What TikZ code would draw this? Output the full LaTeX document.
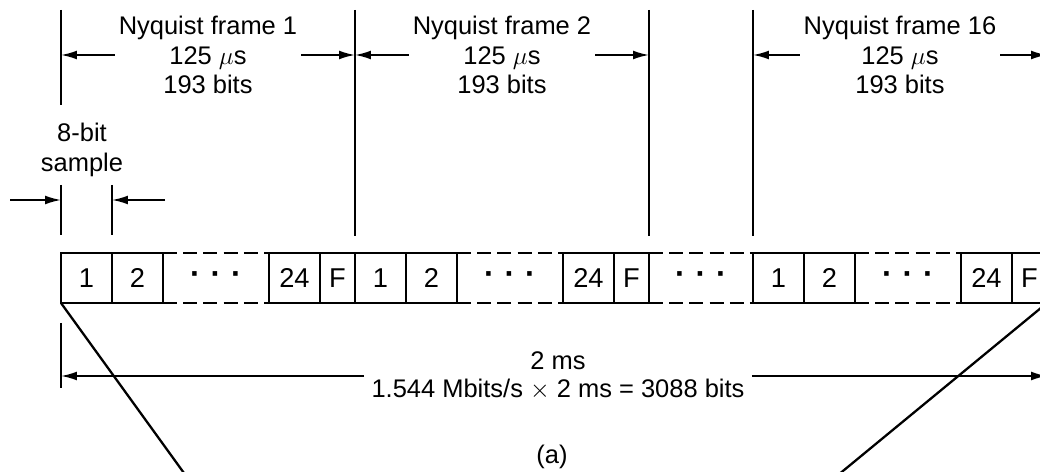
\documentclass[tikz,border=0pt]{standalone}
\usepackage{fontspec}
\setmainfont{Liberation Sans}
\usepackage{tikz}
\usetikzlibrary{positioning,calc,arrows.meta}

\tikzset{
	slot/.style={draw, line width=1.4pt, outer sep=0pt, inner sep=0pt,
		minimum width=1.02cm, minimum height=1cm, font=\fontsize{15.5}{17}\selectfont},
	flag/.style={slot, minimum width=0.7cm},
	gapline/.style={dash pattern=on 8pt off 3.5pt, line width=1.2pt},
	tick/.style={line width=1.2pt},
	dim/.style={line width=1pt, -{Latex[length=9pt,width=5pt]}},
	dots/.style={inner sep=0pt, font=\fontsize{18}{18}\selectfont\bfseries}
}

\begin{document}
\begin{tikzpicture}[x=0.02cm, y=-0.02cm, font=\fontsize{14.5}{17}\selectfont]
	\useasboundingbox (0,0) rectangle (1040,472);
	\coordinate (top) at (0,10);
	\coordinate (tophalf) at (0,236);
	
	\foreach \f/\x/\n in {a/61/1, b/355/2, c/753/16}{
		\node[slot, anchor=west] (\f-1) at (\x,278) {1};
		\node[slot, right=0pt of \f-1] (\f-2) {2};
		\node[slot, right=2.12cm of \f-2] (\f-24) {24};
		\node[flag, right=0pt of \f-24] (\f-F) {F};
		\draw[gapline] (\f-2.north east) -- (\f-24.north west)
			(\f-2.south east) -- (\f-24.south west);
		\node[dots] (\f-dots) at ($(\f-2.east)!0.5!(\f-24.west)$)
			{·\hspace{0.2cm}·\hspace{0.2cm}·};
		\node[align=center, inner sep=2pt] (\f-lab) at ($(\f-1.west |- 0,55)!0.5!(\f-F.east |- 0,55)$)
			{Nyquist frame \n\\125 $\mu$s\\193 bits};
		\draw[dim] (\f-lab.west) -- (\f-lab.west -| \f-1.west);
		\draw[dim] (\f-lab.east) -- (\f-lab.east -| \f-F.east);
	}
	
	\draw[gapline] (b-F.north east) -- (c-1.north west)
		(b-F.south east) -- (c-1.south west);
	\node[dots] (bc-dots) at ($(b-F.east)!0.5!(c-1.west)$)
		{·\hspace{0.2cm}·\hspace{0.2cm}·};
	
	\draw[tick] (a-1.west |- top) -- (a-1.west |- 0,105);
	\draw[tick] (b-1.west |- top) -- (b-1.west |- tophalf);
	\draw[tick] (b-F.east |- top) -- (b-F.east |- tophalf);
	\draw[tick] (c-1.west |- top) -- (c-1.west |- tophalf);
	
	\node[align=center, inner sep=0pt] (sample) at (82,150) {8-bit\\sample};
	\draw[tick] (a-1.west |- 0,185) -- (a-1.west |- 0,235);
	\draw[tick] (a-1.east |- 0,185) -- (a-1.east |- 0,235);
	\coordinate (sl) at (10,200);
	\coordinate (sr) at (165,200);
	\draw[dim] (sl) -- (sl -| a-1.west);
	\draw[dim] (sr) -- (sr -| a-1.east);
	
	\node[align=center, inner sep=4pt, font=\fontsize{14.5}{16}\selectfont] (span) at (558,376)
		{2 ms\\1.544 Mbits/s $\times$ 2 ms = 3088 bits};
	\draw[tick] (a-1.west |- 0,323) -- (a-1.west |- 0,388);
	\draw[dim] (span.west) -- (span.west -| a-1.west);
	\draw[dim] (span.east) -- (span.east -| c-F.east);
	
	\coordinate (zl) at (189,480);
	\coordinate (zr) at (832,480);
	\draw[line width=1.3pt] (a-1.south west) -- (zl);
	\draw[line width=1.3pt] (c-F.south east) -- (zr);
	
	\node (cap) at (552,457) {(a)};
\end{tikzpicture}
\end{document}
